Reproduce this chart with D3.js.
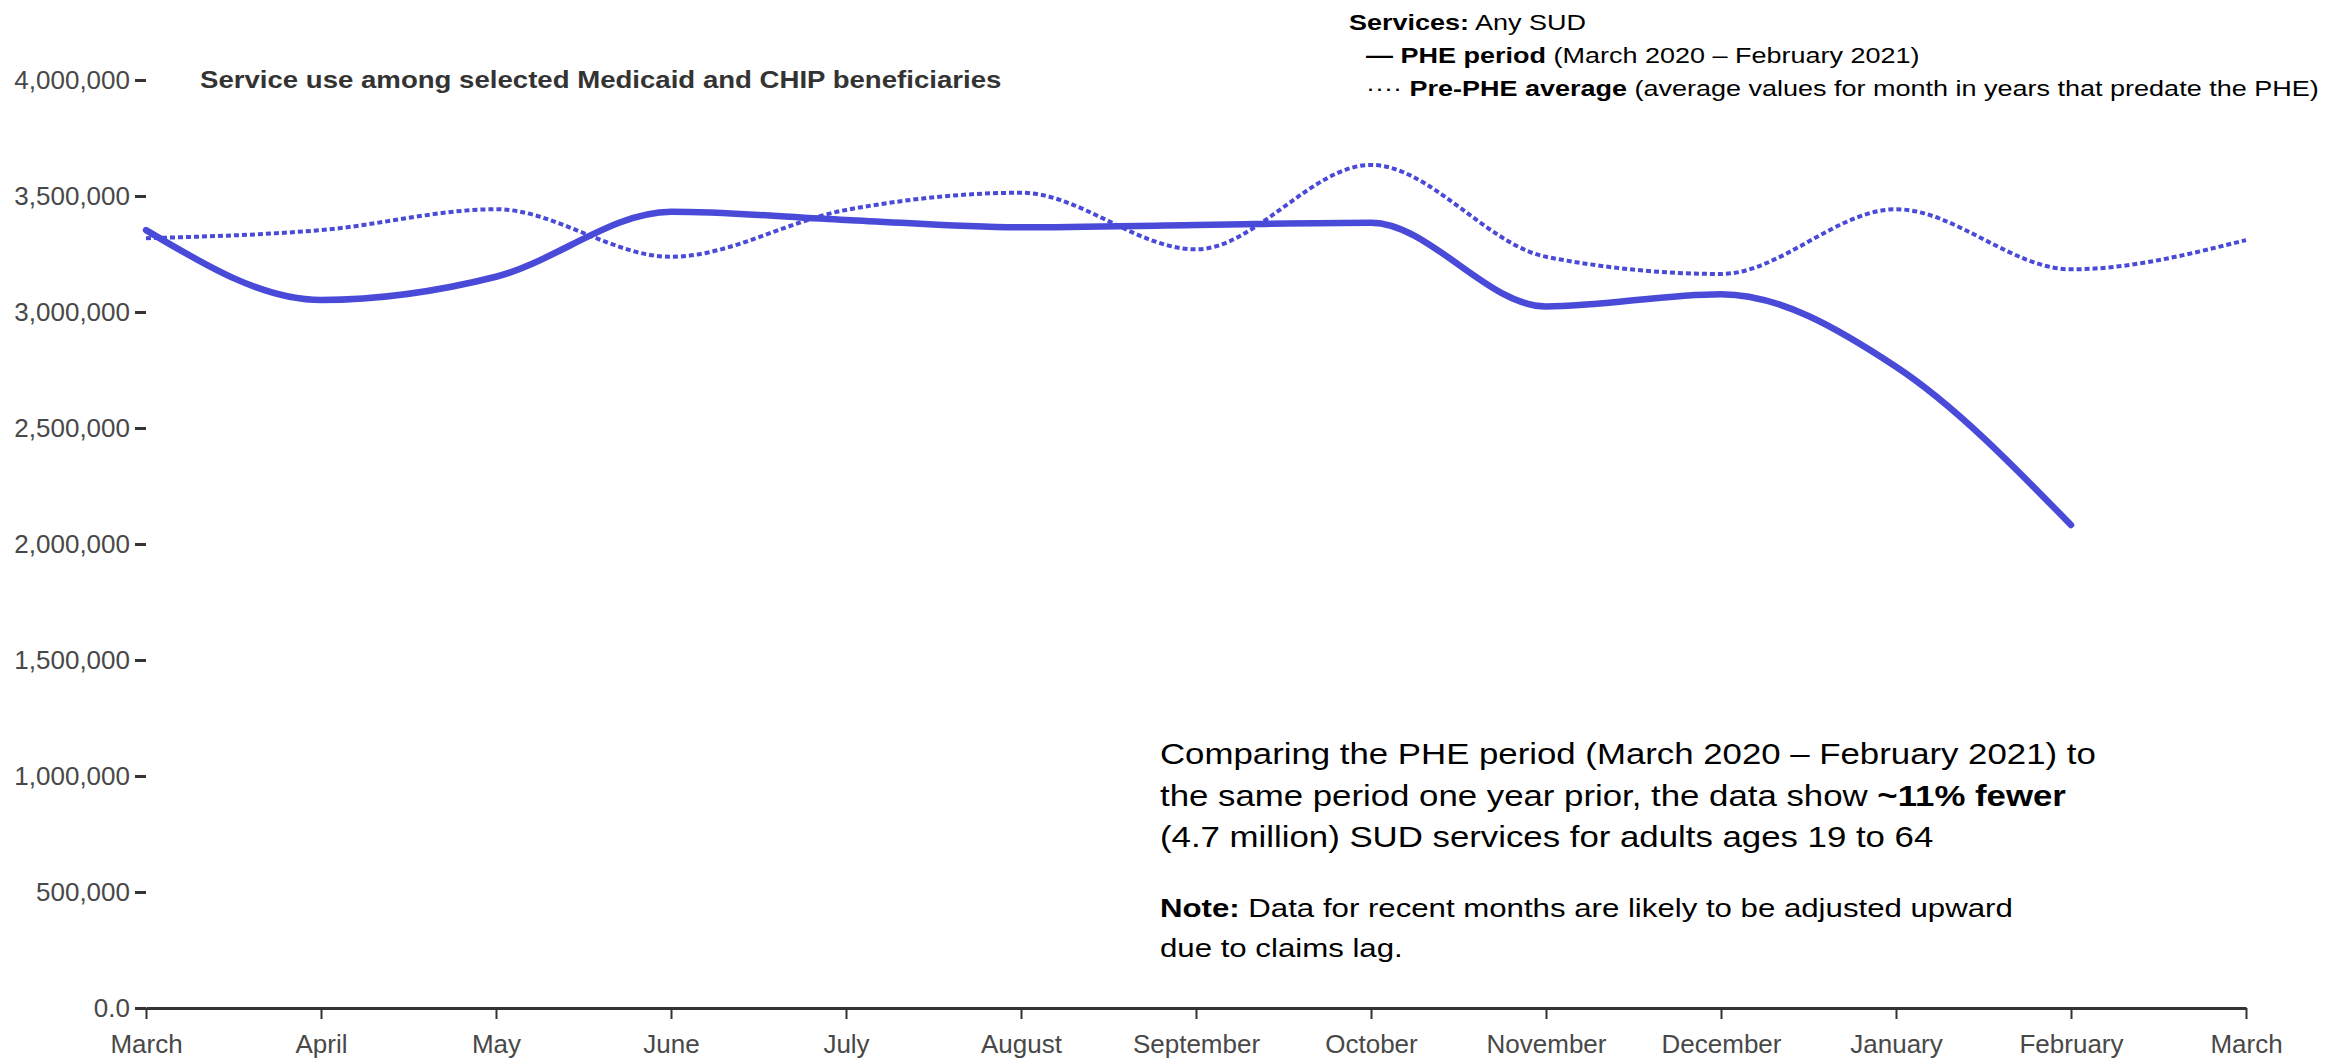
<!DOCTYPE html>
<html>
<head>
<meta charset="utf-8">
<script src="https://cdn.jsdelivr.net/npm/d3@7"></script>
<style>
  body { margin: 0; background: #fff; }
  svg { display: block; font-family: "Liberation Sans", Arial, sans-serif; }
  text { white-space: pre; }
</style>
</head>
<body>
<svg id="chart" width="2338" height="1059"></svg>
<script>
// month labels on the x axis (March 2020 .. March 2021)
var months = ["March", "April", "May", "June", "July", "August", "September",
              "October", "November", "December", "January", "February", "March"];
// PHE period, March 2020 - February 2021
var phe = [3353000, 3052000, 3152000, 3432000, 3397000, 3365000,
           3375000, 3385000, 3024000, 3077000, 2764000, 2082000];
// pre-PHE average for the same month
var prePhe = [3318000, 3353000, 3443000, 3238000, 3440000, 3514000, 3270000,
              3634000, 3238000, 3164000, 3443000, 3184000, 3310000];
var yTicks = [0, 500000, 1000000, 1500000, 2000000, 2500000, 3000000, 3500000, 4000000];

var svg = d3.select("#chart"),
    margin = {top: 80, right: 92, bottom: 51, left: 146},
    width = +svg.attr("width") - margin.left - margin.right,
    height = +svg.attr("height") - margin.top - margin.bottom,
    g = svg.append("g").attr("transform", "translate(" + margin.left + "," + margin.top + ")");

var blue = "#4a4ad9";

var x = d3.scaleLinear().domain([0, months.length - 1]).range([0, width]);
var y = d3.scaleLinear().domain([0, 4000000]).range([height, 0]);

// y axis: tick marks + labels, no domain line
var yAxis = g.append("g")
    .call(d3.axisLeft(y)
      .tickValues(yTicks)
      .tickFormat(function(v) { return v === 0 ? "0.0" : d3.format(",")(v); })
      .tickSize(11)
      .tickPadding(5));
yAxis.select(".domain").remove();
yAxis.selectAll("line").attr("stroke", "#333").attr("stroke-width", 3);
yAxis.selectAll("text").attr("fill", "#484848").style("font-size", "26px");

// x axis
var xAxis = g.append("g")
    .attr("transform", "translate(0," + height + ")")
    .call(d3.axisBottom(x)
      .tickValues(d3.range(months.length))
      .tickFormat(function(i) { return months[i]; })
      .tickSize(11)
      .tickSizeOuter(0)
      .tickPadding(16));
xAxis.select(".domain").attr("stroke", "#333").attr("stroke-width", 3);
xAxis.selectAll("line").attr("stroke", "#333").attr("stroke-width", 2);
xAxis.selectAll("text").attr("fill", "#484848").style("font-size", "26px");

var line = d3.line()
    .x(function(d, i) { return x(i); })
    .y(function(d) { return y(d); })
    .curve(d3.curveMonotoneX);

g.append("path")
    .datum(prePhe)
    .attr("fill", "none")
    .attr("stroke", blue)
    .attr("stroke-width", 4)
    .attr("stroke-dasharray", "5,3")
    .attr("d", line);

g.append("path")
    .datum(phe)
    .attr("fill", "none")
    .attr("stroke", blue)
    .attr("stroke-width", 6.5)
    .attr("stroke-linecap", "round")
    .attr("d", line);

// text blocks are a little wider than the font, so stretch them horizontally
var stretch = 1.2;
function addText(px, py, size, parts, color) {
  var t = svg.append("g")
      .attr("transform", "translate(" + px + "," + py + ") scale(" + stretch + ",1)")
    .append("text")
      .attr("fill", color || "#000")
      .style("font-size", size + "px");
  parts.forEach(function(p) {
    t.append("tspan").attr("font-weight", p.b ? "bold" : "normal").text(p.t);
  });
}

addText(200, 88, 23, [{t: "Service use among selected Medicaid and CHIP beneficiaries", b: true}], "#333");

addText(1349, 30, 22.5, [{t: "Services:", b: true}, {t: " Any SUD"}]);
addText(1366, 63, 22.5, [{t: "— PHE period", b: true}, {t: " (March 2020 – February 2021)"}]);
addText(1366, 96, 22.5, [{t: "···· "}, {t: "Pre-PHE average", b: true},
                         {t: " (average values for month in years that predate the PHE)"}]);

addText(1160, 764, 29, [{t: "Comparing the PHE period (March 2020 – February 2021) to"}]);
addText(1160, 806, 29, [{t: "the same period one year prior, the data show "}, {t: "~11% fewer", b: true}]);
addText(1160, 847, 29, [{t: "(4.7 million) SUD services for adults ages 19 to 64"}]);
addText(1160, 917, 26, [{t: "Note:", b: true}, {t: " Data for recent months are likely to be adjusted upward"}]);
addText(1160, 957, 26, [{t: "due to claims lag."}]);
</script>
</body>
</html>
